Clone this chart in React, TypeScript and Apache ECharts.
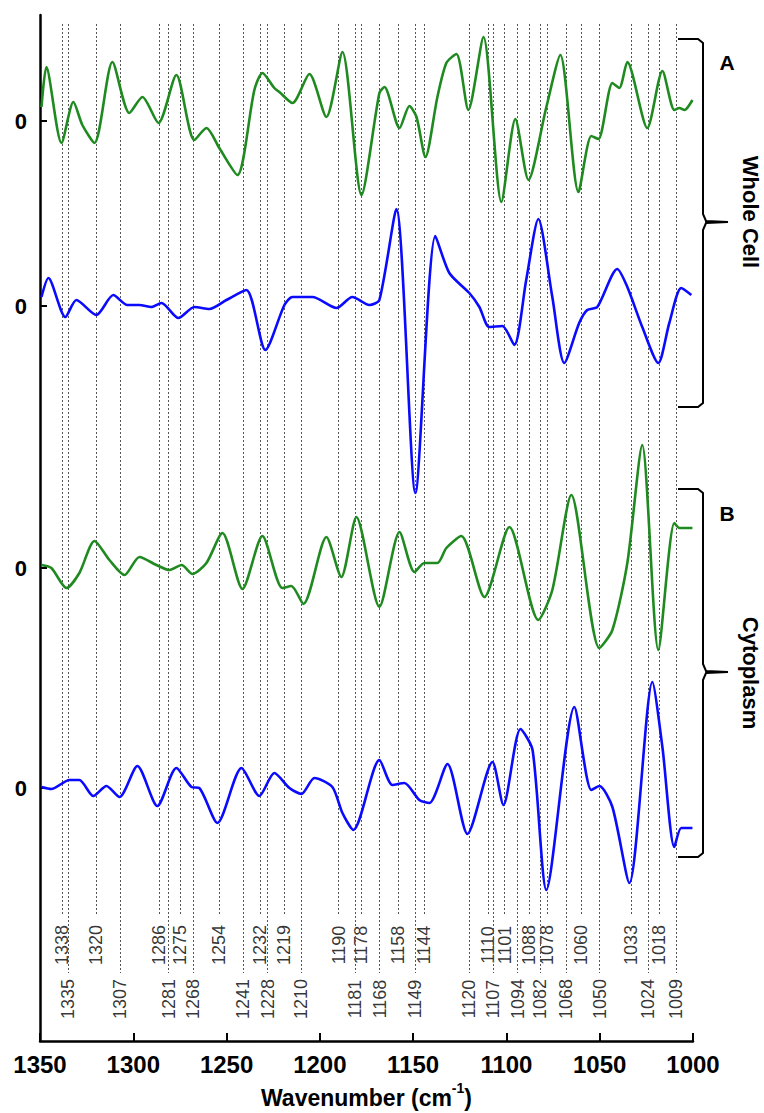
import React, { useEffect, useRef } from "react";
import * as echarts from "echarts";

// Peak-assignment labels (cm-1), upper and lower rows
const upperLabels = [1338, 1320, 1286, 1275, 1254, 1232, 1219, 1190, 1178, 1158, 1144, 1110, 1101, 1088, 1078, 1060, 1033, 1018];
const lowerLabels = [1335, 1307, 1281, 1268, 1241, 1228, 1210, 1181, 1168, 1149, 1120, 1107, 1094, 1082, 1068, 1050, 1024, 1009];

// Baseline offsets of the four stacked spectra (axis units)
const offsetWholeGreen = 920;
const offsetWholeBlue = 735;
const offsetCytoGreen = 473;
const offsetCytoBlue = 253;

// [wavenumber, second-derivative signal relative to its baseline]
const wholeGreen = [
  [1349.2, 14], [1346.6, 54], [1338.5, -22], [1332.1, 19], [1327.3, -4], [1320.8, -22], [1311.2, 59], [1302.1, 8],
  [1295.1, 24], [1286.5, -2], [1276.9, 46], [1267.3, -19], [1260.8, -7], [1253.9, -27], [1244.2, -54], [1235.1, 31],
  [1230.8, 48], [1224.4, 33], [1221.7, 29], [1214.7, 18], [1205.6, 47], [1196.5, 4], [1187.9, 69], [1177.7, -74],
  [1168.1, 28], [1165.4, 34], [1157.3, -7], [1152.0, 15], [1148.2, 4], [1143.4, -36], [1137.0, 24], [1132.2, 58],
  [1126.8, 67], [1120.4, 11], [1112.3, 84], [1102.7, -81], [1095.2, 2], [1088.2, -59], [1078.6, 14], [1071.1, 66],
  [1061.4, -71], [1054.5, -15], [1050.7, -18], [1043.2, 38], [1039.5, 33], [1035.2, 59], [1024.5, -7], [1016.4, 50],
  [1010.0, 11], [1007.3, 13], [1004.6, 11], [1000.3, 21],
];
const wholeBlue = [
  [1349.2, 9], [1345.5, 28], [1336.4, -11], [1330.5, 6], [1319.8, -9], [1310.7, 11], [1303.2, 1], [1296.7, 1],
  [1290.3, -1], [1284.9, 3], [1275.8, -12], [1267.2, -1], [1259.2, -3], [1250.1, 6], [1239.4, 16], [1229.2, -44],
  [1219.0, 1], [1214.7, 9], [1204.0, 9], [1191.1, -2], [1182.6, 9], [1173.5, 1], [1168.1, 6], [1159.0, 97],
  [1148.8, -187], [1138.1, 70], [1130.6, 33], [1119.9, 13], [1114.5, -1], [1109.2, -21], [1102.2, -20], [1095.8, -39],
  [1089.4, 26], [1082.9, 87], [1075.4, 9], [1069.0, -57], [1061.0, -17], [1056.7, -4], [1051.3, -1], [1040.6, 37],
  [1035.2, 19], [1027.2, -21], [1018.6, -57], [1012.7, -17], [1006.3, 18], [1000.9, 11],
];
const cytoGreen = [
  [1349.2, 3], [1343.9, 0], [1335.8, -20], [1328.9, -5], [1320.8, 27], [1312.8, 8], [1304.7, -7], [1296.7, 11],
  [1287.6, 3], [1280.6, -2], [1274.1, 3], [1268.3, -6], [1260.8, 5], [1252.2, 35], [1241.5, -21], [1230.8, 32],
  [1220.1, -20], [1215.3, -18], [1208.8, -36], [1196.5, 31], [1188.5, -9], [1180.4, 51], [1168.1, -39], [1157.3, 36],
  [1149.3, -4], [1144.0, 5], [1137.0, 5], [1132.2, 20], [1124.2, 32], [1111.8, -29], [1098.4, 41], [1082.9, -52],
  [1075.4, -22], [1065.2, 73], [1050.2, -80], [1043.2, -62], [1035.2, 5], [1027.2, 123], [1018.6, -82], [1010.0, 45],
  [1007.3, 40], [1000.3, 40],
];
const cytoBlue = [
  [1349.2, 1], [1343.9, -1], [1334.2, 8], [1328.9, 8], [1321.4, -8], [1314.4, 2], [1307.4, -9], [1297.8, 22],
  [1287.1, -18], [1276.9, 20], [1268.8, 1], [1264.6, 0], [1254.9, -35], [1242.0, 20], [1232.4, -8], [1224.4, 15],
  [1216.3, 0], [1209.9, -6], [1202.9, 10], [1193.3, 1], [1187.9, -25], [1182.0, -42], [1168.1, 28], [1161.1, 3],
  [1154.7, 5], [1146.7, -12], [1141.3, -15], [1131.6, 24], [1120.9, -46], [1107.5, 26], [1101.6, -17], [1092.5, 59],
  [1086.0, 38], [1078.6, -102], [1063.6, 81], [1054.5, -2], [1050.2, 2], [1043.2, -19], [1034.1, -95], [1021.8, 106],
  [1016.4, 41], [1010.0, -59], [1006.3, -40], [1000.3, -40],
];

const FONT = "'Liberation Sans', Arial, Helvetica, sans-serif";
const GREEN = "#1f8a1f";
const BLUE = "#0a0aff";

// layout constants (axis units for label rows and guide lines)
const LINE_TOP = 1017;
const UPPER_LINE_END = 126;
const LOWER_LINE_END = 68;
const UPPER_LABEL_Y = 96;
const LOWER_LABEL_Y = 42;

function shift(data: number[][], off: number) {
  return data.map(([w, v]) => [w, v + off]);
}

function bracket(top: number, mid: number, bottom: number) {
  return [
    [678, top], [698, top], [703, top + 4], [703, mid - 8], [706, mid - 1], [728, mid],
    [706, mid + 1], [703, mid + 8], [703, bottom - 4], [698, bottom], [678, bottom],
  ];
}

export default function App() {
  const ref = useRef<HTMLDivElement>(null);
  useEffect(() => {
    if (!ref.current) return;
    const chart = echarts.init(ref.current, undefined, { renderer: "svg" });
    const guideLines = [...upperLabels.map((w) => [w, UPPER_LINE_END]), ...lowerLabels.map((w) => [w, LOWER_LINE_END])].map(
      ([w, end]) => [{ coord: [w, LINE_TOP] }, { coord: [w, end] }]
    );
    const lineSeries = (name: string, data: number[][], off: number, color: string) => ({
      name,
      type: "line",
      data: shift(data, off),
      showSymbol: false,
      smooth: 0.25,
      lineStyle: { color, width: 2.6 },
      silent: true,
      z: 5,
    });
    chart.setOption({
      animation: false,
      textStyle: { fontFamily: FONT },
      grid: { left: 40, right: 71, top: 15, bottom: 72, outerBoundsMode: "none", containLabel: false },
      xAxis: {
        type: "value",
        min: 1000,
        max: 1350,
        interval: 50,
        inverse: true,
        name: "{a|Wavenumber (cm}{s|-1}{a|)}",
        nameLocation: "middle",
        nameGap: 40,
        nameTextStyle: {
          rich: {
            a: { fontSize: 23, fontWeight: "bold", color: "#000", fontFamily: FONT, lineHeight: 28, verticalAlign: "bottom" },
            s: { fontSize: 14, fontWeight: "bold", color: "#000", fontFamily: FONT, lineHeight: 28, verticalAlign: "top" },
          },
        },
        axisLine: { lineStyle: { color: "#000", width: 2.5 } },
        axisTick: { inside: true, length: 8, lineStyle: { color: "#000", width: 2 } },
        axisLabel: {
          fontSize: 24, fontWeight: "bold", color: "#000", margin: 11, fontFamily: FONT,
          formatter: (v: number) => String(v),
        },
        splitLine: { show: false },
      },
      yAxis: {
        type: "value",
        min: 0,
        max: 1026,
        axisLine: { show: true, lineStyle: { color: "#000", width: 2.5 } },
        axisTick: {
          show: true,
          inside: true,
          length: 7,
          customValues: [offsetWholeGreen, offsetWholeBlue, offsetCytoGreen, offsetCytoBlue],
          lineStyle: { color: "#000", width: 2 },
        },
        axisLabel: {
          show: true,
          customValues: [offsetWholeGreen, offsetWholeBlue, offsetCytoGreen, offsetCytoBlue],
          formatter: () => "0",
          fontSize: 22,
          fontWeight: "bold",
          color: "#000",
          margin: 13,
          fontFamily: FONT,
        },
        splitLine: { show: false },
      },
      series: [
        {
          name: "labels",
          type: "scatter",
          symbolSize: 0,
          silent: true,
          data: [...upperLabels.map((w) => [w, UPPER_LABEL_Y]), ...lowerLabels.map((w) => [w, LOWER_LABEL_Y])],
          label: {
            show: true,
            position: "inside",
            rotate: 90,
            formatter: (p: any) => String(p.value[0]),
            fontSize: 18,
            color: "#000",
            fontFamily: FONT,
          },
          markLine: {
            silent: true,
            symbol: "none",
            label: { show: false },
            lineStyle: { color: "#555", width: 1, type: [2, 2] },
            data: guideLines,
          },
        },
        lineSeries("Whole cell A", wholeGreen, offsetWholeGreen, GREEN),
        lineSeries("Whole cell B", wholeBlue, offsetWholeBlue, BLUE),
        lineSeries("Cytoplasm A", cytoGreen, offsetCytoGreen, GREEN),
        lineSeries("Cytoplasm B", cytoBlue, offsetCytoBlue, BLUE),
      ],
      graphic: [
        { type: "polyline", shape: { points: bracket(39, 222, 407) }, style: { stroke: "#000", lineWidth: 2, fill: "none" } },
        { type: "polyline", shape: { points: bracket(489, 672, 857) }, style: { stroke: "#000", lineWidth: 2, fill: "none" } },
        { type: "text", x: 727, y: 62, style: { text: "A", font: `bold 21px ${FONT}`, fill: "#000", align: "center", verticalAlign: "middle" } },
        { type: "text", x: 727, y: 513, style: { text: "B", font: `bold 21px ${FONT}`, fill: "#000", align: "center", verticalAlign: "middle" } },
        {
          type: "text", x: 750, y: 212, rotation: -Math.PI / 2,
          style: { text: "Whole Cell", font: `bold 22px ${FONT}`, fill: "#000", align: "center", verticalAlign: "middle" },
        },
        {
          type: "text", x: 750, y: 673, rotation: -Math.PI / 2,
          style: { text: "Cytoplasm", font: `bold 22px ${FONT}`, fill: "#000", align: "center", verticalAlign: "middle" },
        },
      ],
    });
    return () => chart.dispose();
  }, []);
  return <div ref={ref} style={{ position: "fixed", left: 0, top: 0, width: 764, height: 1113, background: "#fff" }} />;
}
